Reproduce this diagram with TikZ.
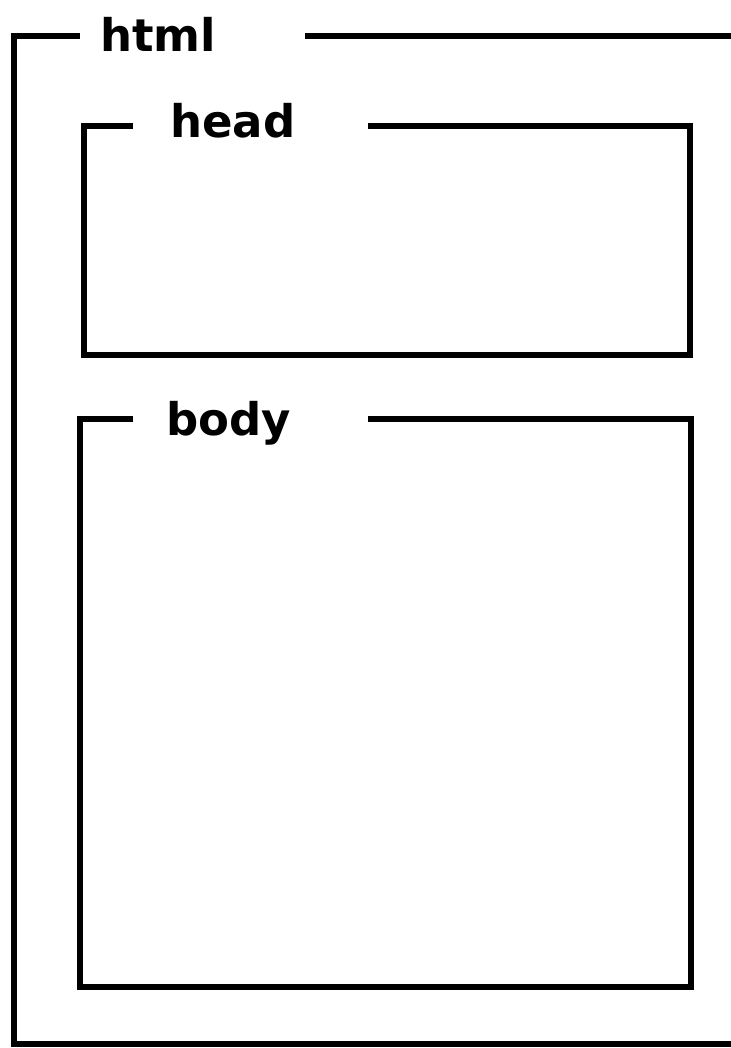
\documentclass[tikz,border=0pt]{standalone}
\usepackage{fontspec}
\setmainfont{DejaVu Sans}
\begin{document}
\begin{tikzpicture}[x=1pt,y=-1pt,
  frame/.style={line width=6pt, line join=miter, black},
  lbl/.style={anchor=base west, inner sep=0pt, font=\fontsize{45}{45}\selectfont\bfseries}]
\useasboundingbox[fill=white] (0,0) rectangle (730,1048);
% html
\node[lbl] (html) at (100,52) {html};
\coordinate (hA) at (80,36);
\coordinate (hB) at (305,36);
\draw[frame] (hA) -- (14,36) -- (14,1044) -- (733,1044);
\draw[frame] (hB) -- (733,36);
% head
\node[lbl] (head) at (170,138) {head};
\coordinate (dA) at (133,126);
\coordinate (dB) at (368,126);
\draw[frame] (dA) -- (84,126) -- (84,355) -- (690,355) -- (690,126) -- (dB);
% body
\node[lbl] (body) at (166,435) {body};
\coordinate (bA) at (133,419);
\coordinate (bB) at (368,419);
\draw[frame] (bA) -- (80,419) -- (80,987) -- (691,987) -- (691,419) -- (bB);
\end{tikzpicture}
\end{document}
